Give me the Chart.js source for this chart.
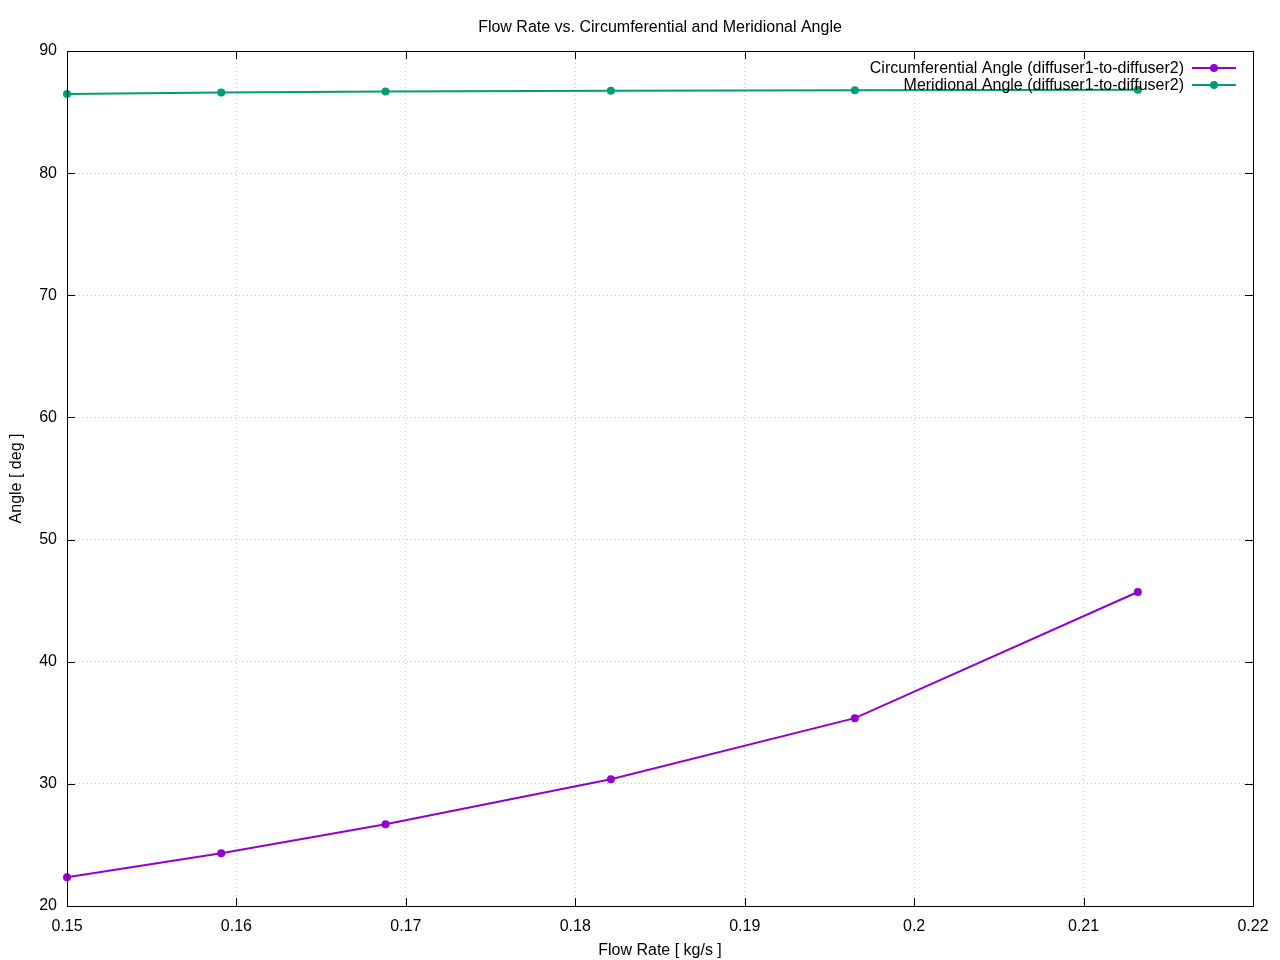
<!DOCTYPE html>
<html>
<head>
<meta charset="utf-8">
<title>Flow Rate vs. Circumferential and Meridional Angle</title>
<script src="https://cdn.jsdelivr.net/npm/chart.js@4.4.1/dist/chart.umd.min.js"></script>
<style>
  html, body { margin: 0; padding: 0; background: #fff; }
  #chart { display: block; }
</style>
</head>
<body>
<canvas id="chart" width="1280" height="960"></canvas>
<script>
const chartTitle = 'Flow Rate vs. Circumferential and Meridional Angle';
const xTitle = 'Flow Rate [ kg/s ]';
const yTitle = 'Angle [ deg ]';

const flowRate = [0.1500, 0.1591, 0.1688, 0.1821, 0.1965, 0.2132];
const circumferentialAngle = [22.35, 24.32, 26.70, 30.38, 35.38, 45.71];
const meridionalAngle = [86.48, 86.60, 86.68, 86.75, 86.78, 86.82];

const seriesLabels = ['Circumferential Angle (diffuser1-to-diffuser2)', 'Meridional Angle (diffuser1-to-diffuser2)'];
const seriesColors = ['#9400d3', '#009e73'];

const xMin = 0.15, xMax = 0.22, xStep = 0.01;
const yMin = 20, yMax = 90, yStep = 10;

const FONT = '"Liberation Sans", Arial, sans-serif';

function toPoints(xs, ys) {
  return xs.map((x, i) => ({ x: x, y: ys[i] }));
}

// frame, inward ticks on all four sides, title and key (gnuplot look)
const gnuplotFrame = {
  id: 'gnuplotFrame',
  afterDatasetsDraw(chart) {
    const { ctx, chartArea: a, scales } = chart;
    const tick = 8;
    ctx.save();
    ctx.strokeStyle = '#000';
    ctx.lineWidth = 1;
    ctx.beginPath();
    scales.x.ticks.forEach(t => {
      const px = Math.round(scales.x.getPixelForValue(t.value)) + 0.5;
      ctx.moveTo(px, a.bottom); ctx.lineTo(px, a.bottom - tick);
      ctx.moveTo(px, a.top); ctx.lineTo(px, a.top + tick);
    });
    scales.y.ticks.forEach(t => {
      const py = Math.round(scales.y.getPixelForValue(t.value)) + 0.5;
      ctx.moveTo(a.left, py); ctx.lineTo(a.left + tick, py);
      ctx.moveTo(a.right, py); ctx.lineTo(a.right - tick, py);
    });
    ctx.stroke();
    ctx.strokeRect(Math.round(a.left) + 0.5, Math.round(a.top) + 0.5,
      Math.round(a.right - a.left), Math.round(a.bottom - a.top));

    // title
    ctx.fillStyle = '#000';
    ctx.font = '16px ' + FONT;
    ctx.textAlign = 'center';
    ctx.textBaseline = 'middle';
    ctx.fillText(chartTitle, 660, 28);

    // key
    ctx.textAlign = 'right';
    chart.data.datasets.forEach((ds, i) => {
      const y = 68 + i * 17;
      ctx.fillStyle = '#000';
      ctx.fillText(ds.label, 1184, y + 1);
      ctx.strokeStyle = ds.borderColor;
      ctx.lineWidth = 2;
      ctx.beginPath();
      ctx.moveTo(1192, y); ctx.lineTo(1236, y);
      ctx.stroke();
      ctx.fillStyle = ds.borderColor;
      ctx.beginPath();
      ctx.arc(1214, y, 4, 0, Math.PI * 2);
      ctx.fill();
    });
    ctx.restore();
  }
};

const ctx = document.getElementById('chart');
new Chart(ctx, {
  type: 'line',
  data: {
    datasets: [
      {
        label: seriesLabels[0],
        data: toPoints(flowRate, circumferentialAngle),
        borderColor: seriesColors[0],
        backgroundColor: seriesColors[0],
        borderWidth: 2,
        pointRadius: 4,
        pointBorderWidth: 0,
        tension: 0
      },
      {
        label: seriesLabels[1],
        data: toPoints(flowRate, meridionalAngle),
        borderColor: seriesColors[1],
        backgroundColor: seriesColors[1],
        borderWidth: 2,
        pointRadius: 4,
        pointBorderWidth: 0,
        tension: 0
      }
    ]
  },
  options: {
    responsive: false,
    animation: false,
    events: [],
    clip: false,
    layout: { padding: { top: 51, right: 27, left: 0, bottom: 0 } },
    plugins: {
      legend: { display: false },
      title: { display: false },
      tooltip: { enabled: false }
    },
    scales: {
      x: {
        type: 'linear',
        min: xMin,
        max: xMax,
        afterFit: s => { s.height = 54; },
        ticks: {
          stepSize: xStep,
          padding: 11,
          color: '#000',
          font: { family: FONT, size: 16 },
          maxRotation: 0,
          callback: v => String(+v.toFixed(2))
        },
        grid: { color: '#c8c8c8', lineWidth: 1, drawTicks: false },
        border: { display: false, dash: [1, 3] },
        title: {
          display: true,
          text: xTitle,
          color: '#000',
          font: { family: FONT, size: 16 },
          padding: { top: 0, bottom: 0 }
        }
      },
      y: {
        type: 'linear',
        min: yMin,
        max: yMax,
        afterFit: s => { s.width = 67; },
        ticks: {
          stepSize: yStep,
          padding: 10,
          color: '#000',
          font: { family: FONT, size: 16 }
        },
        grid: { color: '#c8c8c8', lineWidth: 1, drawTicks: false },
        border: { display: false, dash: [1, 3] },
        title: {
          display: true,
          text: yTitle,
          color: '#000',
          font: { family: FONT, size: 16 },
          padding: { top: 7, bottom: 0 }
        }
      }
    }
  },
  plugins: [gnuplotFrame]
});
</script>
</body>
</html>
